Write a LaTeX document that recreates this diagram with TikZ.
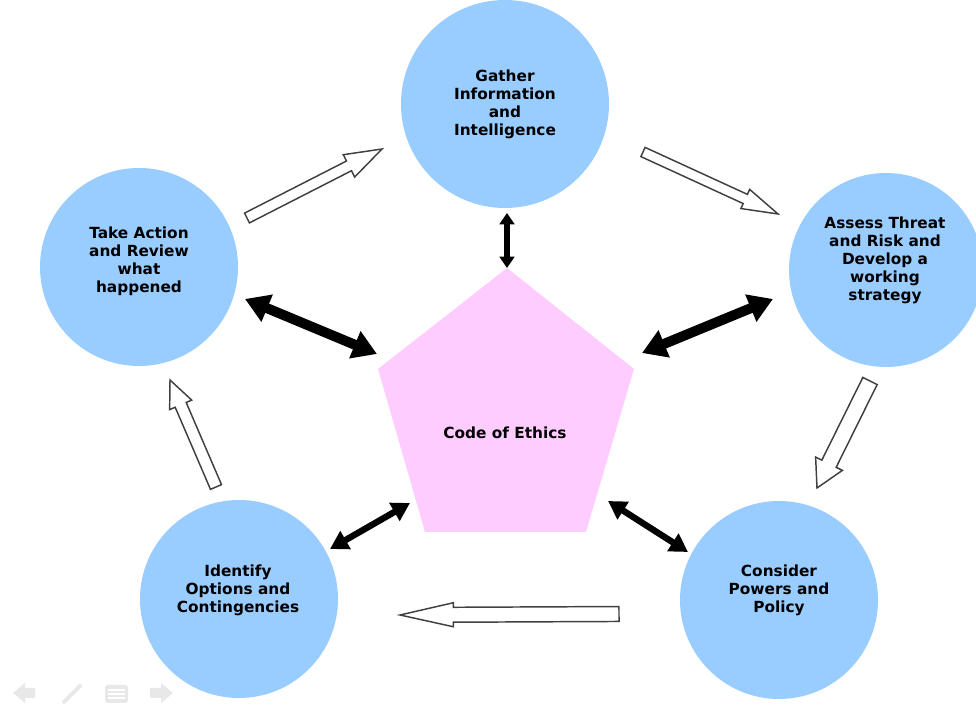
\documentclass[tikz,border=0pt]{standalone}
\usepackage{fontspec}
\setmainfont{DejaVu Sans}
\usepackage{xcolor}
\usetikzlibrary{arrows.meta}
\usetikzlibrary{calc}
\definecolor{stageblue}{HTML}{99CCFF}
\definecolor{ethicspink}{HTML}{FFCCFF}
\definecolor{navgray}{HTML}{E8E8E8}
% outlined block arrow: tail, tip, half shaft, half head, head length
\newcommand{\hollowarrow}[5]{%
  \draw [hollow] ($(#1)!#3!90:(#2)$) -- ($(#2)!#5!(#1)!#3!90:(#2)$)
    -- ($(#2)!#5!(#1)!#4!90:(#2)$) -- (#2)
    -- ($(#2)!#5!(#1)!#4!-90:(#2)$) -- ($(#2)!#5!(#1)!#3!-90:(#2)$)
    -- ($(#1)!#3!-90:(#2)$) -- cycle;}

\begin{document}
\begin{tikzpicture}[x=0.75pt,y=-0.75pt]
\tikzstyle{every node}=[font=\bfseries\fontsize{11.5}{13.5}\selectfont, align=center]
\tikzstyle{stage}=[circle, fill=stageblue, inner sep=0pt]
\tikzstyle{hollow}=[draw=black!75, line width=1.1pt, fill=white, line join=miter]
\tikzstyle{bigtwo}=[line width=7.5pt, {Triangle[length=18pt,width=21pt]}-{Triangle[length=18pt,width=21pt]}]
\tikzstyle{midtwo}=[line width=4.8pt, {Triangle[length=13.5pt,width=15pt]}-{Triangle[length=13.5pt,width=15pt]}]
\tikzstyle{smalltwo}=[line width=4.2pt, {Triangle[length=8.5pt,width=11pt]}-{Triangle[length=8.5pt,width=11pt]}]
\useasboundingbox (0,0) rectangle (976,705);

% stages
\node [stage, minimum size=156pt] (gather) at (505,104) {};
\node [stage, minimum size=148.5pt] (action) at (139,267) {};
\node [stage, minimum size=145.5pt] (assess) at (886,270) {};
\node [stage, minimum size=148.5pt] (identify) at (239,599) {};
\node [stage, minimum size=148.5pt] (consider) at (779,600) {};
\node (gathertxt) at (505,104) {Gather\\Information\\and\\Intelligence};
\node (actiontxt) at (139,261) {Take Action\\and Review\\what\\happened};
\node (assesstxt) at (885,260) {Assess Threat\\and Risk and\\Develop a\\working\\strategy};
\node (identifytxt) at (238,590) {Identify\\Options and\\Contingencies};
\node (considertxt) at (779,590) {Consider\\Powers and\\Policy};

% code of ethics
\coordinate (pt) at (507,268);
\coordinate (pr) at (634,369);
\coordinate (pbr) at (586,532);
\coordinate (pbl) at (425,532);
\coordinate (pl) at (378,369);
\fill [ethicspink] (pt) -- (pr) -- (pbr) -- (pbl) -- (pl) -- cycle;
\node (ethics) at (505,433) {Code of Ethics};

% two-way links
\coordinate (ga) at (507,213);
\coordinate (ac) at (245,299);
\coordinate (acp) at (377,354);
\coordinate (as) at (773,299);
\coordinate (asp) at (642,353);
\coordinate (id) at (330,549);
\coordinate (idp) at (410,503);
\coordinate (co) at (688,552);
\coordinate (cop) at (608,501);
\draw [smalltwo] (ga) -- (pt);
\draw [bigtwo] (ac) -- (acp);
\draw [bigtwo] (as) -- (asp);
\draw [midtwo] (id) -- (idp);
\draw [midtwo] (co) -- (cop);

% cycle arrows
\coordinate (tl0) at (247,218);
\coordinate (tl1) at (382,149);
\coordinate (tr0) at (643,152);
\coordinate (tr1) at (778,214);
\coordinate (rt0) at (870,381);
\coordinate (rt1) at (817,488);
\coordinate (bt0) at (619,614);
\coordinate (bt1) at (400,615);
\coordinate (lf0) at (216,487);
\coordinate (lf1) at (170,380);
\hollowarrow{tl0}{tl1}{4.1pt}{9.4pt}{27.8pt}
\hollowarrow{tr0}{tr1}{3.8pt}{7.9pt}{27pt}
\hollowarrow{rt0}{rt1}{6pt}{11.2pt}{20.3pt}
\hollowarrow{bt0}{bt1}{5.6pt}{9pt}{40pt}
\hollowarrow{lf0}{lf1}{4.5pt}{9pt}{20.3pt}

% slide controls
\fill [navgray] (13,693) -- (25,683) -- (25,688) -- (35,688) -- (35,698) -- (25,698) -- (25,703) -- cycle;
\draw [navgray, line width=3pt, line cap=round] (64,702) -- (80,686);
\fill [navgray, rounded corners=2pt] (105,685) rectangle (128,703);
\draw [white, line width=1pt] (108,690) -- (125,690) (108,694) -- (125,694) (108,698) -- (125,698);
\fill [navgray] (173,693) -- (161,683) -- (161,688) -- (150,688) -- (150,698) -- (161,698) -- (161,703) -- cycle;
\end{tikzpicture}
\end{document}
